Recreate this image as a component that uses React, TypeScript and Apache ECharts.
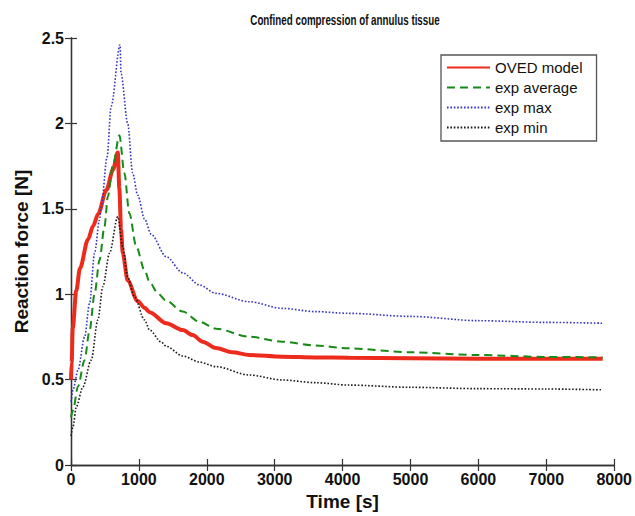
import { useEffect, useRef } from "react";
import * as echarts from "echarts";

// Time [s] and reaction force [N]
const ovedTime = [0, 10, 25, 78, 131, 250, 326, 400, 521, 620, 689, 712, 737, 762, 835, 982, 1084, 1158, 1402, 1646, 1792, 1939, 2134, 2378, 2623, 3111, 3600, 4088, 5000, 6000, 7000, 7830];
const ovedForce = [0.5, 0.6, 0.8, 1.02, 1.15, 1.32, 1.4, 1.47, 1.61, 1.73, 1.83, 1.62, 1.38, 1.24, 1.08, 0.96, 0.92, 0.895, 0.83, 0.79, 0.761, 0.722, 0.685, 0.66, 0.644, 0.634, 0.63, 0.628, 0.625, 0.622, 0.622, 0.622];

const avgTime = [0, 29, 103, 200, 274, 347, 420, 493, 542, 615, 713, 786, 859, 962, 1084, 1158, 1279, 1402, 1646, 1890, 2134, 2623, 3111, 3600, 4088, 5000, 6000, 7000, 7830];
const avgForce = [0.28, 0.32, 0.46, 0.615, 0.79, 1.0, 1.2, 1.395, 1.57, 1.75, 1.93, 1.71, 1.474, 1.278, 1.14, 1.07, 1.005, 0.962, 0.898, 0.839, 0.798, 0.751, 0.722, 0.7, 0.683, 0.66, 0.644, 0.633, 0.63];

const maxTime = [0, 29, 103, 200, 274, 347, 420, 444, 532, 591, 722, 737, 835, 908, 982, 1084, 1182, 1402, 1646, 1890, 2134, 2623, 3111, 3600, 4088, 5000, 6000, 7000, 7830];
const maxForce = [0.37, 0.44, 0.556, 0.75, 0.947, 1.24, 1.434, 1.51, 1.805, 2.1, 2.46, 2.29, 2.0, 1.71, 1.58, 1.44, 1.35, 1.22, 1.125, 1.055, 1.005, 0.956, 0.917, 0.898, 0.888, 0.87, 0.845, 0.835, 0.83];

const minTime = [0, 29, 78, 176, 298, 396, 469, 567, 689, 762, 835, 933, 1084, 1158, 1329, 1402, 1646, 1890, 2134, 2623, 3111, 3600, 4088, 5000, 6000, 7000, 7830];
const minForce = [0.17, 0.224, 0.34, 0.458, 0.615, 0.85, 1.044, 1.24, 1.454, 1.278, 1.1, 0.985, 0.849, 0.79, 0.72, 0.695, 0.638, 0.603, 0.576, 0.527, 0.498, 0.482, 0.468, 0.455, 0.447, 0.445, 0.44];

const seriesNames = ["OVED model", "exp average", "exp max", "exp min"];
const chartTitle = "Confined compression of annulus tissue";
const xTicks = { min: 0, max: 8000, interval: 1000 };
const yTicks = { min: 0, max: 2.5, interval: 0.5 };

const zip = (t: number[], v: number[]) => t.map((x, i) => [x, v[i]]);

const FONT = "'Liberation Sans', Arial, sans-serif";

export default function App() {
  const ref = useRef<HTMLDivElement>(null);
  useEffect(() => {
    const chart = echarts.init(ref.current!, null, { renderer: "svg" });
    const axisLine = { show: true, lineStyle: { color: "#333", width: 1.3 } };
    const tick = { show: true, inside: true, length: 6, lineStyle: { color: "#333", width: 1.2 } };
    const label = { fontFamily: FONT, fontWeight: "bold", fontSize: 16, color: "#111" };
    chart.setOption({
      animation: false,
      backgroundColor: "#fff",
      graphic: [
        {
          type: "text",
          x: 345,
          y: 20,
          scaleX: 0.7,
          style: {
            text: chartTitle,
            fontFamily: FONT,
            fontWeight: "bold",
            fontSize: 14,
            fill: "#111",
            align: "center",
            verticalAlign: "middle",
          },
        },
      ],
      legend: {
        data: seriesNames,
        orient: "vertical",
        left: 441,
        top: 55,
        padding: [5, 14, 6, 5],
        itemWidth: 43,
        itemHeight: 14,
        itemGap: 5,
        itemStyle: { opacity: 0 },
        borderColor: "#555",
        borderWidth: 1.3,
        backgroundColor: "#fff",
        textStyle: { fontFamily: FONT, fontSize: 15, color: "#111" },
      },
      grid: { left: 71, top: 38, right: 18, bottom: 51, containLabel: false },
      xAxis: [
        {
          type: "value",
          position: "bottom",
          ...xTicks,
          name: "Time [s]",
          nameLocation: "middle",
          nameGap: 22,
          nameTextStyle: { fontFamily: FONT, fontWeight: "bold", fontSize: 19, color: "#111" },
          axisLine,
          axisTick: tick,
          splitLine: { show: false },
          axisLabel: { ...label, margin: 6, formatter: (v: number) => String(v) },
        },
        {
          type: "value",
          position: "top",
          ...xTicks,
          axisLine,
          axisTick: tick,
          splitLine: { show: false },
          axisLabel: { show: false },
        },
      ],
      yAxis: [
        {
          type: "value",
          position: "left",
          ...yTicks,
          name: "Reaction force [N]",
          nameLocation: "middle",
          nameGap: 40,
          nameTextStyle: { fontFamily: FONT, fontWeight: "bold", fontSize: 19, color: "#111" },
          axisLine,
          axisTick: tick,
          splitLine: { show: false },
          axisLabel: { ...label, margin: 7 },
        },
        {
          type: "value",
          position: "right",
          ...yTicks,
          axisLine,
          axisTick: tick,
          splitLine: { show: false },
          axisLabel: { show: false },
        },
      ],
      series: [
        {
          name: seriesNames[0],
          type: "line",
          data: zip(ovedTime, ovedForce),
          showSymbol: false,
          symbol: "none",
          smooth: 0.3,
          smoothMonotone: "x",
          color: "#ec2b1c",
          lineStyle: { color: "#ec2b1c", width: 4 },
          z: 2,
        },
        {
          name: seriesNames[1],
          type: "line",
          data: zip(avgTime, avgForce),
          showSymbol: false,
          symbol: "none",
          smooth: 0.3,
          smoothMonotone: "x",
          color: "#178a17",
          lineStyle: { color: "#178a17", width: 2, type: [8, 5] },
          z: 3,
        },
        {
          name: seriesNames[2],
          type: "line",
          data: zip(maxTime, maxForce),
          showSymbol: false,
          symbol: "none",
          smooth: 0.3,
          smoothMonotone: "x",
          color: "#3535c0",
          lineStyle: { color: "#3535c0", width: 1.6, type: [1.6, 1.8] },
          z: 3,
        },
        {
          name: seriesNames[3],
          type: "line",
          data: zip(minTime, minForce),
          showSymbol: false,
          symbol: "none",
          smooth: 0.3,
          smoothMonotone: "x",
          color: "#1a1a1a",
          lineStyle: { color: "#1a1a1a", width: 1.6, type: [1.6, 1.8] },
          z: 3,
        },
      ],
    });
    return () => chart.dispose();
  }, []);
  return (
    <div
      ref={ref}
      style={{ position: "fixed", left: 0, top: 0, width: 635, height: 516, background: "#fff" }}
    />
  );
}
